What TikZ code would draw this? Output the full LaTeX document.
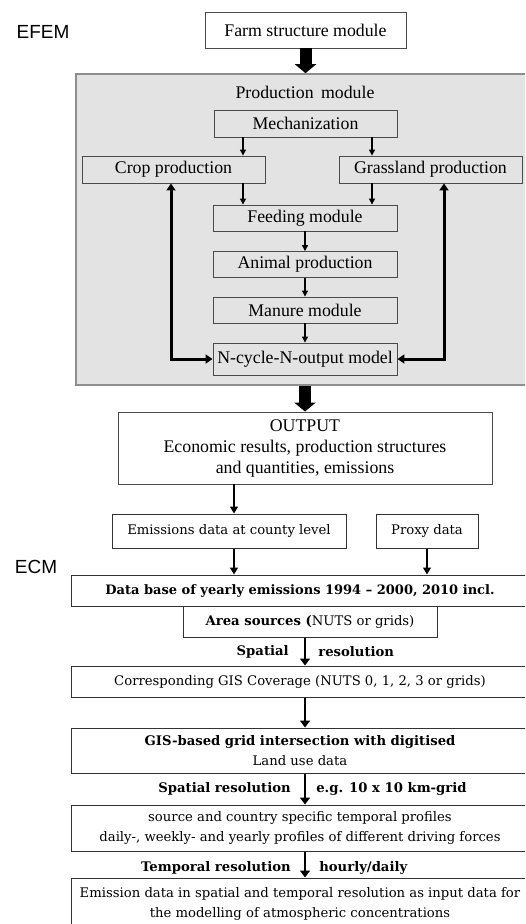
\documentclass[tikz,border=0pt]{standalone}
\usepackage{fontspec}
\setmainfont{Liberation Serif}
\newfontfamily\ecmfont{DejaVu Serif}
\newfontfamily\tagfont{Liberation Sans}
\usetikzlibrary{positioning, arrows.meta, calc}
\definecolor{efgray}{HTML}{E3E3E3}
\definecolor{efborder}{HTML}{8E8E8E}
\definecolor{efline}{HTML}{4A4A4A}
\definecolor{ecline}{HTML}{333333}

\begin{document}
\begin{tikzpicture}[x=1pt, y=-1pt,
    efbox/.style={draw=efline, fill=efgray, line width=0.9pt, inner sep=0pt,
      font=\fontsize{17.8}{21}\selectfont},
    outbox/.style={efbox, fill=white, align=center},
    ecbox/.style={draw=ecline, fill=white, line width=1pt, inner sep=0pt, align=center,
      font=\ecmfont\fontsize{13.2}{19.5}\selectfont},
    restag/.style={inner sep=0pt, font=\ecmfont\fontsize{13.2}{16}\selectfont\bfseries},
    smallarr/.style={line width=1.2pt, -{Triangle[length=6pt, width=6pt]}},
    ecarr/.style={line width=1.1pt, -{Triangle[length=7pt, width=8pt]}},
    fbarr/.style={line width=3pt, {Triangle[length=7pt, width=9pt]}-{Triangle[length=7pt, width=9pt]}},
    bigarr/.style={line width=12pt, -{Triangle[length=9pt, width=21pt]}},
    resarr/.style={line width=2.6pt, -{Triangle[length=7pt, width=10pt]}}]
  \useasboundingbox (0,0) rectangle (525,924);
  \clip (0,0) rectangle (525,924);

  \node[font=\tagfont\fontsize{19}{21}\selectfont] (efem) at (43,32) {EFEM};
  \node[font=\tagfont\fontsize{19}{21}\selectfont] (ecm) at (36,567) {ECM};

  \node[outbox, minimum width=201pt, minimum height=36pt] (farm) at (305.5,30) {Farm structure module};
  \node[draw=efborder, fill=efgray, line width=1.6pt, minimum width=459pt, minimum height=311pt]
    (prod) at (305.5,229.5) {};
  \node[font=\fontsize{17.8}{21}\selectfont] (prodlbl) at (305,92) {Production\, module};
  \node[efbox, minimum width=183pt, minimum height=27pt] (mech) at (305.5,123.5) {Mechanization};
  \node[efbox, minimum width=183pt, minimum height=27pt] (crop) at (173.5,169.5) {Crop production};
  \node[efbox, minimum width=183pt, minimum height=27pt] (grass) at (430.5,169.5) {Grassland production};
  \foreach \n/\y/\t in {feed/218/Feeding module, animal/264.5/Animal production, manure/310/Manure module}
    \node[efbox, minimum width=184pt, minimum height=26pt] (\n) at (305,\y) {\t};
  \node[efbox, minimum width=184pt, minimum height=32pt] (ncycle) at (305,359) {N-cycle-N-output model};

  \coordinate (mL) at ([xshift=-62.5pt]mech.south);
  \coordinate (mR) at ([xshift=66.5pt]mech.south);
  \draw[smallarr] (mL) -- (mL |- crop.north);
  \draw[smallarr] (mR) -- (mR |- grass.north);
  \draw[smallarr] (mL |- crop.south) -- (mL |- feed.north);
  \draw[smallarr] (mR |- grass.south) -- (mR |- feed.north);
  \draw[smallarr] (feed) -- (animal);
  \draw[smallarr] (animal) -- (manure);
  \draw[smallarr] (manure) -- (ncycle);
  \draw[fbarr] (ncycle.west) -| ([xshift=-2.5pt]crop.south);
  \draw[fbarr] (ncycle.east) -| ([xshift=13.5pt]grass.south);
  \draw[bigarr] (farm.south) -- (farm.south |- prod.north);

  \node[outbox, minimum width=374pt, minimum height=72pt] (out) at (305,448)
    {OUTPUT\\Economic results, production structures\\and quantities, emissions};
  \draw[bigarr] (prod.south -| out.north) -- (out.north);

  \node[ecbox, minimum width=234pt, minimum height=34pt] (emis) at (229,531) {Emissions data at county level};
  \node[ecbox, minimum width=102pt, minimum height=34pt] (proxy) at (427,531) {Proxy data};
  \node[ecbox, minimum width=458pt, minimum height=31pt, font=\ecmfont\fontsize{13}{19.5}\selectfont\bfseries]
    (db) at (300,590.5) {Data base of yearly emissions 1994 – 2000, 2010 incl.};
  \node[ecbox, minimum width=254pt, minimum height=31pt] (area) at (310,621.5) {\textbf{Area sources (}NUTS or grids)};
  \node[ecbox, minimum width=458pt, minimum height=31pt] (gisc) at (300,681.5) {Corresponding GIS Coverage (NUTS 0, 1, 2, 3 or grids)};
  \node[ecbox, minimum width=458pt, minimum height=45pt] (digit) at (300,750.5)
    {\textbf{GIS-based grid intersection with digitised}\\Land use data};
  \node[ecbox, minimum width=458pt, minimum height=46pt] (prof) at (300,828)
    {source and country specific temporal profiles\\daily-, weekly- and yearly profiles of different driving forces};
  \node[ecbox, minimum width=458pt, minimum height=52pt] (fin) at (300,904)
    {Emission data in spatial and temporal resolution as input data for\\the modelling of atmospheric concentrations};

  \coordinate (oc) at ([xshift=5pt]emis.north);
  \draw[ecarr] (oc |- out.south) -- (oc);
  \draw[ecarr] (oc |- emis.south) -- (oc |- db.north);
  \draw[ecarr] (proxy.south) -- (proxy.south |- db.north);

  \coordinate (s1) at ([xshift=-5pt]area.south);
  \draw[resarr] (s1) -- (s1 |- gisc.north)
    node[restag, midway, left=15pt] {Spatial} node[restag, midway, right=12pt] {resolution};
  \draw[resarr] (s1 |- gisc.south) -- (s1 |- digit.north);
  \draw[resarr] (s1 |- digit.south) -- (s1 |- prof.north)
    node[restag, midway, left=13pt] {Spatial resolution} node[restag, midway, right=10pt] {e.g. 10 x 10 km-grid};
  \draw[resarr] (s1 |- prof.south) -- (s1 |- fin.north)
    node[restag, midway, left=13pt, yshift=-3pt] {Temporal resolution} node[restag, midway, right=13pt, yshift=-3pt] {hourly/daily};
\end{tikzpicture}
\end{document}
